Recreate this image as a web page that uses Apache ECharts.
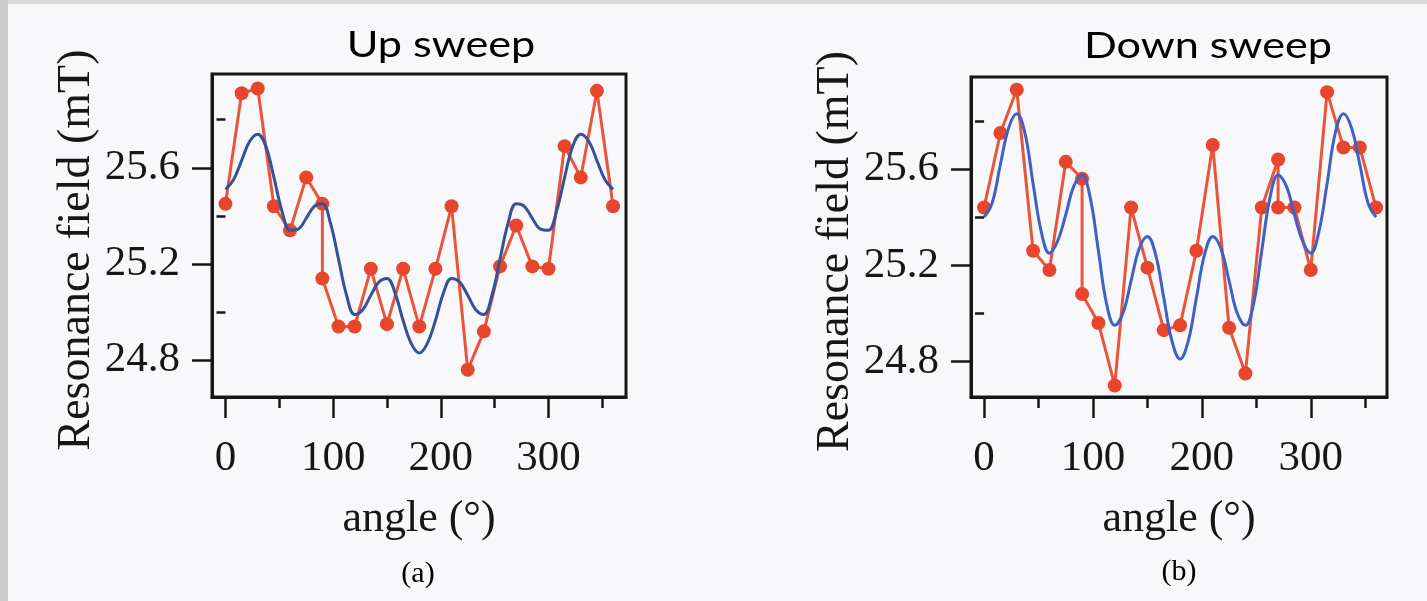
<!DOCTYPE html>
<html>
<head>
<meta charset="utf-8">
<script src="https://cdn.jsdelivr.net/npm/echarts@6/dist/echarts.min.js"></script>
<style>
  html, body { margin: 0; padding: 0; background: #f8f8fb; }
  #chart { width: 1427px; height: 601px; }
</style>
</head>
<body>
<div id="chart"></div>
<script>
// Measured resonance field versus in-plane angle, up and down field sweeps
const angleUp = [0, 15, 30, 45, 60, 75, 90, 90, 105, 120, 135, 150, 165, 180, 195, 210, 225, 240, 255, 270, 285, 300, 315, 330, 345, 360];
const fieldUp = [25.45, 25.91, 25.93, 25.44, 25.34, 25.56, 25.45, 25.14, 24.94, 24.94, 25.18, 24.95, 25.18, 24.94, 25.18, 25.44, 24.76, 24.92, 25.19, 25.36, 25.19, 25.18, 25.69, 25.56, 25.92, 25.44];

const angleDown = [0, 15, 30, 45, 60, 75, 90, 90, 105, 120, 135, 150, 165, 180, 195, 210, 225, 240, 255, 270, 270, 285, 300, 315, 330, 345, 360];
const fieldDown = [25.44, 25.75, 25.93, 25.26, 25.18, 25.63, 25.56, 25.08, 24.96, 24.70, 25.44, 25.19, 24.93, 24.95, 25.26, 25.70, 24.94, 24.75, 25.44, 25.64, 25.44, 25.44, 25.18, 25.92, 25.69, 25.69, 25.44];

// Fitted curves
const fitAngle = [0, 7.5, 15, 22.5, 30, 37.5, 45, 52.5, 60, 67.5, 75, 82.5, 90, 97.5, 105, 112.5, 120, 127.5, 135, 142.5, 150, 157.5, 165, 172.5, 180, 187.5, 195, 202.5, 210, 217.5, 225, 232.5, 240, 247.5, 255, 262.5, 270, 277.5, 285, 292.5, 300, 307.5, 315, 322.5, 330, 337.5, 345, 352.5, 360];
const fitUp = [25.51, 25.55, 25.63, 25.71, 25.74, 25.69, 25.56, 25.42, 25.34, 25.345, 25.39, 25.44, 25.45, 25.37, 25.22, 25.07, 24.99, 25.01, 25.07, 25.125, 25.14, 25.08, 24.965, 24.87, 24.83, 24.87, 24.965, 25.08, 25.14, 25.125, 25.07, 25.01, 24.99, 25.07, 25.22, 25.37, 25.45, 25.44, 25.39, 25.345, 25.34, 25.42, 25.56, 25.69, 25.74, 25.71, 25.63, 25.55, 25.51];
const fitDown = [25.40, 25.46, 25.62, 25.77, 25.83, 25.75, 25.54, 25.34, 25.25, 25.30, 25.41, 25.53, 25.575, 25.48, 25.26, 25.04, 24.95, 25.00, 25.135, 25.27, 25.32, 25.245, 25.065, 24.885, 24.81, 24.885, 25.065, 25.245, 25.32, 25.27, 25.135, 25.00, 24.95, 25.04, 25.26, 25.48, 25.575, 25.53, 25.41, 25.30, 25.25, 25.34, 25.54, 25.75, 25.83, 25.77, 25.62, 25.46, 25.40];

// Tick positions
const xMajorTicks = [0, 100, 200, 300];
const xMinorTicks = [50, 150, 250, 350];
const yMajorTicks = [24.8, 25.2, 25.6];
const yMinorTicks = [25.0, 25.4, 25.8];

const titles = ['Up sweep', 'Down sweep'];
const panelTags = ['(a)', '(b)'];
const xName = 'angle (°)';
const yName = 'Resonance field (mT)';

const ink = '#161616';
const serif = 'Liberation Serif';

function pairs(xs, ys) { return xs.map((x, i) => [x, ys[i]]); }

function xAxes(gridIndex, min, max) {
  return [
    {
      type: 'value', gridIndex, position: 'bottom', min, max,
      axisLine: { show: true, onZero: false, lineStyle: { color: ink, width: 3 } },
      axisTick: { show: true, customValues: xMajorTicks, length: 21, lineStyle: { color: ink, width: 2.5 } },
      axisLabel: { show: true, customValues: xMajorTicks, margin: 40, color: ink, fontFamily: serif, fontSize: 43 },
      splitLine: { show: false },
      name: xName, nameLocation: 'middle', nameGap: 100,
      nameTextStyle: { color: ink, fontFamily: serif, fontSize: 44 }
    },
    {
      type: 'value', gridIndex, position: 'bottom', min, max,
      axisLine: { show: false },
      axisTick: { show: true, customValues: xMinorTicks, length: 11, lineStyle: { color: ink, width: 2.5 } },
      axisLabel: { show: false },
      splitLine: { show: false }
    }
  ];
}

function yAxes(gridIndex, min, max) {
  return [
    {
      type: 'value', gridIndex, position: 'left', min, max,
      axisLine: { show: true, onZero: false, lineStyle: { color: ink, width: 3 } },
      axisTick: { show: true, customValues: yMajorTicks, length: 20, lineStyle: { color: ink, width: 2.5 } },
      axisLabel: { show: true, customValues: yMajorTicks, margin: 32, color: ink, fontFamily: serif, fontSize: 43,
        formatter: v => v.toFixed(1) },
      splitLine: { show: false },
      name: yName, nameLocation: 'middle', nameGap: 112, nameRotate: 90,
      nameTextStyle: { color: ink, fontFamily: serif, fontSize: 46, padding: [0, 29, 0, 0] }
    },
    {
      type: 'value', gridIndex, position: 'left', min, max,
      axisLine: { show: false },
      axisTick: { show: true, customValues: yMinorTicks, length: 9, lineStyle: { color: ink, width: 2.5 } },
      axisLabel: { show: false },
      splitLine: { show: false }
    }
  ];
}

function dataSeries(axisIndex, xs, ys) {
  return {
    type: 'line', xAxisIndex: axisIndex, yAxisIndex: axisIndex,
    data: pairs(xs, ys),
    symbol: 'circle', symbolSize: 14,
    itemStyle: { color: '#e8452d' },
    lineStyle: { color: '#e9553a', width: 3 },
    z: 2
  };
}

function fitSeries(axisIndex, ys, color) {
  return {
    type: 'line', xAxisIndex: axisIndex, yAxisIndex: axisIndex,
    data: pairs(fitAngle, ys),
    showSymbol: false, symbol: 'none', smooth: 0.4,
    lineStyle: { color, width: 3 },
    z: 3
  };
}

function caption(text, x, y, family, size, scaleX) {
  return {
    type: 'text', x, y, scaleX: scaleX || 1, z: 10,
    style: {
      text, fontFamily: family, fontSize: size, fill: '#000',
      align: 'center', verticalAlign: 'middle'
    }
  };
}

const chart = echarts.init(document.getElementById('chart'), null, { renderer: 'canvas' });
chart.setOption({
  backgroundColor: '#f8f8fb',
  animation: false,
  grid: [
    { left: 212, top: 74, width: 414, height: 323, show: true, borderColor: ink, borderWidth: 3, backgroundColor: 'transparent', outerBoundsMode: 'none' },
    { left: 971, top: 77, width: 416, height: 320, show: true, borderColor: ink, borderWidth: 3, backgroundColor: 'transparent', outerBoundsMode: 'none' }
  ],
  xAxis: [...xAxes(0, -12.5, 372), ...xAxes(1, -12, 370)],
  yAxis: [...yAxes(0, 24.647, 25.99), ...yAxes(1, 24.652, 25.983)],
  series: [
    dataSeries(0, angleUp, fieldUp),
    fitSeries(0, fitUp, '#33529a'),
    dataSeries(2, angleDown, fieldDown),
    fitSeries(2, fitDown, '#3f61c6')
  ],
  graphic: [
    { type: 'rect', shape: { x: 0, y: 0, width: 1427, height: 4 }, style: { fill: '#d9d9d9' }, z: 0 },
    { type: 'rect', shape: { x: 0, y: 0, width: 8, height: 601 }, style: { fill: '#cbcbcb' }, z: 0 },
    caption(titles[0], 441, 45, 'Lato', 36, 1.2),
    caption(titles[1], 1208, 46, 'Lato', 36, 1.2),
    caption(panelTags[0], 418, 574, serif, 30, 1),
    caption(panelTags[1], 1179, 572, serif, 30, 1)
  ]
});
</script>
</body>
</html>
